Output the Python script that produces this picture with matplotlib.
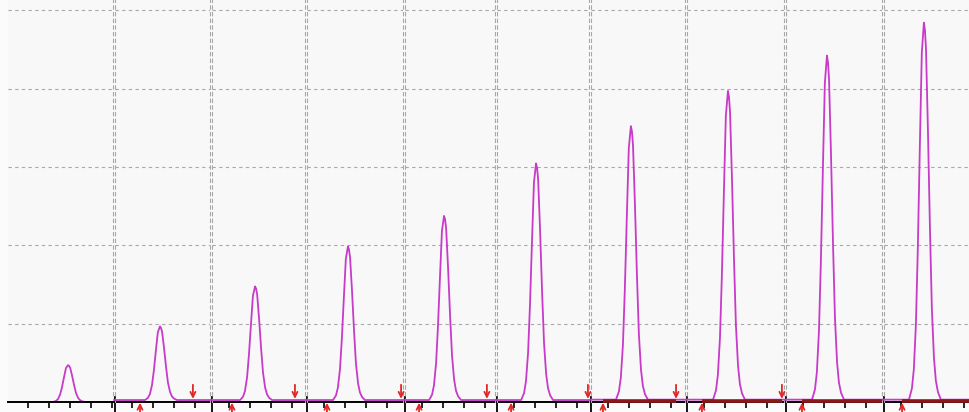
import matplotlib
matplotlib.use("Agg")
import matplotlib.pyplot as plt

# ten injections, one chromatogram window each (x in min, y in signal units)
panel_px = [(8, 113), (115, 210), (212, 305), (307, 403), (405, 495),
            (497, 589), (591, 685), (687, 784), (786, 882), (884, 970)]
x_start = [0.05, 0.19, 0.19, 0.19, 0.19, 0.19, 0.19, 0.19, 0.19, 0.19]
peak_rt = [2.91, 2.33, 2.24, 2.14, 2.05, 2.05, 2.09, 2.14, 2.14, 2.09]
peak_height = [0.47, 0.94, 1.45, 1.96, 2.35, 3.02, 3.49, 3.94, 4.39, 4.81]
trace_base = [0.0, 0.025, 0.025, 0.025, 0.025, 0.025, 0.03, 0.03, 0.03, 0.03]
int_start = [None, 1.38, 1.14, 1.14, 0.86, 0.86, 0.76, 0.90, 0.95, 1.05]
int_end = [None, 3.90, 4.14, 4.67, 4.09, 4.52, 4.24, 4.71, None, None]
red_baseline = [False, False, False, False, False, False, True, True, True, True]

# peak shape: offset from apex (min) and fraction of apex height
shape_dt = [-0.71, -0.57, -0.48, -0.38, -0.29, -0.19, -0.10, 0.0, 0.05,
            0.10, 0.19, 0.29, 0.38, 0.48, 0.57, 0.67, 0.81]
shape_frac = [0.0, 0.03, 0.08, 0.20, 0.40, 0.68, 0.92, 1.0, 0.98,
              0.93, 0.72, 0.45, 0.24, 0.11, 0.05, 0.02, 0.0]

W, H = 970, 412
fig = plt.figure(figsize=(W / 100, H / 100), dpi=100, facecolor="#fbfbfb")
base_px = 402
grid_c = "#a8a8a8"
trace_c = "#c83ac8"
arrow_c = "#e02828"
arrow_kw = dict(arrowstyle="->", color=arrow_c, lw=1.3, mutation_scale=9,
                shrinkA=0, shrinkB=0)

for i, (l, r) in enumerate(panel_px):
    ax = fig.add_axes([l / W, (H - base_px) / H, (r - l) / W, base_px / H])
    ax.set_facecolor("#f8f8f8")
    x0 = x_start[i]
    x1 = x0 + (r - l) / 21
    ax.set_xlim(x0, x1)
    ax.set_ylim(0, 5.13)

    xs = [x0] + [peak_rt[i] + d for d in shape_dt] + [x1]
    ys = [trace_base[i]] + [trace_base[i] + peak_height[i] * f for f in shape_frac] + [trace_base[i]]
    ax.plot(xs, ys, color=trace_c, lw=1.3, zorder=3, clip_on=False)

    if red_baseline[i]:
        s = int_start[i]
        e = int_end[i] if int_end[i] is not None else x1
        ax.plot([s, e], [0.015, 0.015], color="#8a1818", lw=2.6,
                zorder=4, clip_on=False, solid_capstyle="butt")

    # integration start / end markers
    if int_start[i] is not None:
        ax.annotate("", xy=(int_start[i], -0.01), xytext=(int_start[i], -0.2),
                    arrowprops=arrow_kw, annotation_clip=False, zorder=6)
    if int_end[i] is not None:
        ax.annotate("", xy=(int_end[i], 0.04), xytext=(int_end[i], 0.22),
                    arrowprops=arrow_kw, annotation_clip=False, zorder=6)

    ax.set_yticks([1, 2, 3, 4, 5])
    ax.yaxis.grid(True, color=grid_c, ls=(0, (3, 3)), lw=0.8)
    ax.tick_params(axis="y", length=0, labelleft=False)
    ax.set_xticks([t for t in range(1, 6) if x0 < t < x1])
    ax.tick_params(axis="x", direction="out", length=4, width=1.2,
                   color="black", labelbottom=False)

    for side in ("left", "right"):
        ax.spines[side].set_color(grid_c)
        ax.spines[side].set_linestyle((0, (3, 3)))
        ax.spines[side].set_linewidth(0.8)
    ax.spines["top"].set_visible(False)
    if i == 0:
        ax.spines["left"].set_visible(False)
    ax.spines["bottom"].set_color("black")
    ax.spines["bottom"].set_linewidth(1.4)
    ax.spines["bottom"].set_zorder(5 if i == 0 else 2)
    if i > 0:
        ax.axvline(x0, ymin=-0.03, ymax=0.012, color="black", lw=1.3, clip_on=False)

fig.savefig("out.png", dpi=100, facecolor=fig.get_facecolor())
